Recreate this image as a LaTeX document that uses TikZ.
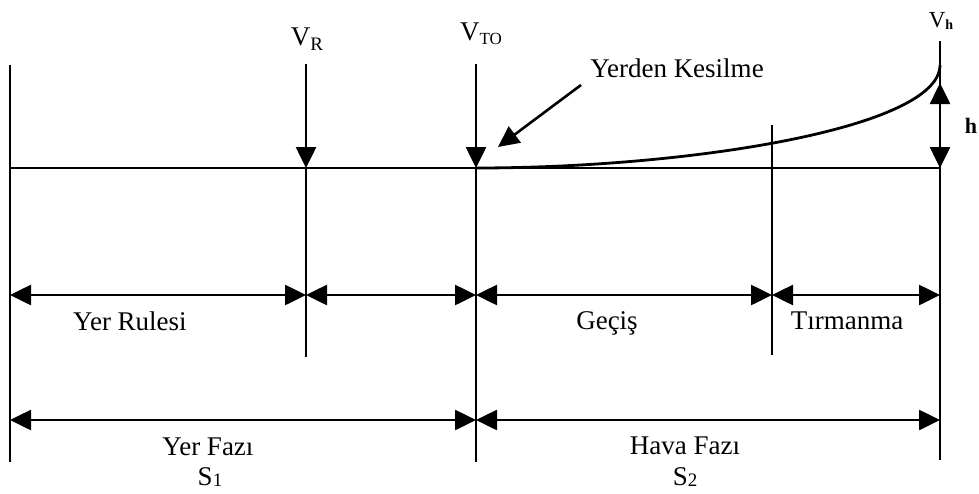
\documentclass[tikz,border=0pt]{standalone}
\usepackage{fontspec}
\setmainfont{Liberation Serif}
\usetikzlibrary{arrows.meta,positioning}

\newcommand{\lowidx}[3][18]{\raisebox{-#3}{\fontsize{#1}{#1}\selectfont #2}}

\begin{document}
\begin{tikzpicture}[
    x=1pt, y=-1pt,
    font=\fontsize{27}{32}\selectfont,
    guide/.style  ={line width=2.6pt},
    ground/.style ={line width=2.8pt},
    dimarrow/.style={line width=2.6pt, {Triangle[length=21pt,width=20pt]}-{Triangle[length=21pt,width=20pt]}},
    downarrow/.style={line width=2.6pt, -{Triangle[length=21pt,width=20pt]}},
    lbl/.style    ={inner sep=0pt, anchor=base}
]
\useasboundingbox (0,0) rectangle (979,493);

% --- reference points ---
\coordinate (lefttop) at (10,65);
\coordinate (leftbot) at (10,462);
\coordinate (rtop)    at (306,64);
\coordinate (rground) at (306,168);
\coordinate (rbot)    at (306,357);
\coordinate (totop)   at (476,64);
\coordinate (toground) at (476,168);
\coordinate (tobot)   at (476,462);
\coordinate (trtop)   at (772,125);
\coordinate (trbot)   at (772,355);
\coordinate (htop)    at (940,41);
\coordinate (hcurve)  at (940,65);
\coordinate (harrow)  at (940,83);
\coordinate (hground) at (940,168);
\coordinate (hbot)    at (940,460);
\coordinate (gleft)   at (10,168);

% --- vertical guide lines ---
\draw[guide] (lefttop) -- (leftbot);
\draw[guide] (rground) -- (rbot);
\draw[guide] (toground) -- (tobot);
\draw[guide] (trtop) -- (trbot);
\draw[guide] (htop) -- (hbot);

% --- ground line and climb curve ---
\draw[ground] (gleft) -- (hground);
\draw[ground] (toground) .. controls (690,168) and (940,128) .. (hcurve);

% --- speed markers ---
\draw[downarrow] (rtop) -- (rground);
\draw[downarrow] (totop) -- (toground);
\node[lbl] (vr) at (307,45) {V\lowidx[19]{R}{5pt}};
\node[lbl] (vto) at (481,40) {V\lowidx[17]{TO}{4pt}};
\node[lbl, font=\fontsize{23}{26}\selectfont] (vh) at (941,27) {V\lowidx[14]{\textbf{h}}{2pt}};

% --- height h ---
\draw[dimarrow] (hground) -- (harrow);
\node[lbl, font=\fontsize{22}{26}\selectfont\bfseries] (h) at (971,133) {h};

% --- lift-off pointer ---
\node[lbl] (liftoff) at (677,77) {Yerden Kesilme};
\coordinate (lotail) at (581,85);
\coordinate (lotip)  at (498,147);
\draw[downarrow] (lotail) -- (lotip);

% --- segment dimensions ---
\coordinate (d1a) at (10,295);
\coordinate (d1b) at (306,295);
\coordinate (d1c) at (476,295);
\coordinate (d1d) at (772,295);
\coordinate (d1e) at (940,295);
\draw[dimarrow] (d1a) -- (d1b);
\draw[dimarrow] (d1b) -- (d1c);
\draw[dimarrow] (d1c) -- (d1d);
\draw[dimarrow] (d1d) -- (d1e);
\node[lbl] (roll)  at (130,330) {Yer Rulesi};
\node[lbl] (trans) at (607,329) {Geçiş};
\node[lbl] (climb) at (847,329) {Tırmanma};

% --- phase dimensions ---
\coordinate (d2a) at (10,420);
\coordinate (d2b) at (476,420);
\coordinate (d2c) at (940,420);
\draw[dimarrow] (d2a) -- (d2b);
\draw[dimarrow] (d2b) -- (d2c);
\node[lbl] (gphase) at (208,455) {Yer Fazı};
\node[lbl] (s1) at (210,485) {S\lowidx[19]{1}{1pt}};
\node[lbl] (aphase) at (685,454) {Hava Fazı};
\node[lbl] (s2) at (685,485) {S\lowidx[19]{2}{1pt}};
\end{tikzpicture}
\end{document}
